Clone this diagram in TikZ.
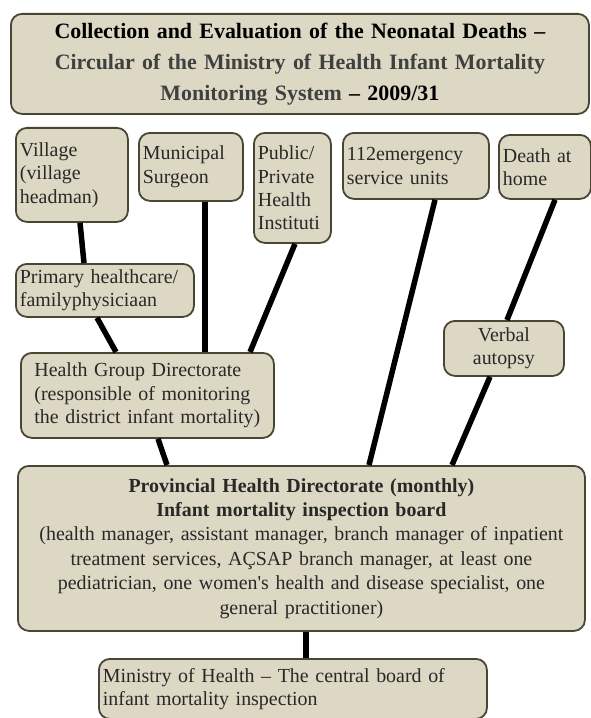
\documentclass[tikz,border=0pt]{standalone}
\usepackage{fontspec}
\setmainfont{Liberation Serif}
\definecolor{boxfill}{RGB}{221,216,196}
\definecolor{boxline}{RGB}{74,70,52}
\definecolor{txt}{RGB}{40,40,40}
\definecolor{ttlgrey}{RGB}{64,64,64}
\begin{document}
\begin{tikzpicture}[x=1bp,y=-1bp,
  box/.style={draw=boxline, fill=boxfill, line width=1.8bp, rounded corners=11bp,
    anchor=north west, inner xsep=4bp, inner ysep=3bp, text=txt,
    font=\fontsize{20}{23.5}\selectfont},
  link/.style={line width=5.5bp, draw=black}]
\useasboundingbox (0,0) rectangle (591,718);
\fill[white] (0,0) rectangle (591,718);
\begin{scope}
\clip (0,0) rectangle (591,718);
\node[box, text width=570bp, minimum height=100bp, align=center,
  font=\bfseries\fontsize{22}{31}\selectfont, text=ttlgrey] (title) at (10,13)
  {\textcolor{black}{Collection and Evaluation of the Neonatal Deaths –}\\
   Circular of the Ministry of Health Infant Mortality\\
   Monitoring System \textcolor{black}{– 2009/31}};
\node[box, text width=104bp, minimum height=94bp, align=left] (village) at (15,127)
  {Village\\(village\\headman)};
\node[box, text width=96bp, minimum height=68bp, align=left] (municipal) at (138,132)
  {Municipal\\Surgeon};
\node[box, text width=69bp, minimum height=110bp, align=left] (public) at (253,132)
  {Public/\\Private\\Health\\Instituti};
\node[box, text width=138bp, minimum height=66bp, align=left] (e112) at (342,132)
  {112emergency\\service units};
\node[box, text width=84bp, minimum height=64bp, align=left] (death) at (498,134)
  {Death at\\home};
\node[box, text width=170bp, minimum height=53bp, align=left] (primary) at (15,263)
  {Primary healthcare/\\familyphysiciaan};
\node[box, text width=112bp, minimum height=55bp, align=center] (verbal) at (443,320)
  {Verbal\\autopsy};
\node[box, text width=226bp, inner xsep=13.5bp, minimum height=85bp, align=left] (hgd) at (20,352)
  {Health Group Directorate\\(responsible of monitoring\\the district infant mortality)};
\node[box, text width=559bp, minimum height=165bp, align=center,
  font=\fontsize{20}{24.5}\selectfont] (prov) at (17,465)
  {\textbf{Provincial Health Directorate (monthly)}\\
   \textbf{Infant mortality inspection board}\\
   (health manager, assistant manager, branch manager of inpatient\\
   treatment services, AÇSAP branch manager, at least one\\
   pediatrician, one women\textquotesingle s health and disease specialist, one\\
   general practitioner)};
\node[box, text width=380bp, minimum height=60bp, align=left] (ministry) at (98,658)
  {Ministry of Health – The central board of\\infant mortality inspection};
\draw[link] ([xshift=65bp]village.south west) -- ([xshift=69bp]primary.north west);
\draw[link] ([xshift=82bp]primary.south west) -- ([xshift=96bp]hgd.north west);
\draw[link] ([xshift=67bp]municipal.south west) coordinate (m1) -- (m1 |- hgd.north);
\draw[link] ([xshift=42bp]public.south west) -- ([xshift=230bp]hgd.north west);
\draw[link] ([xshift=93bp]e112.south west) -- ([xshift=352bp]prov.north west);
\draw[link] ([xshift=57bp]death.south west) -- ([xshift=64bp]verbal.north west);
\draw[link] ([xshift=47bp]verbal.south west) -- ([xshift=435bp]prov.north west);
\draw[link] ([xshift=138bp]hgd.south west) -- ([xshift=150bp]prov.north west);
\draw[link] ([xshift=289bp]prov.south west) coordinate (p1) -- (p1 |- ministry.north);
\end{scope}
\end{tikzpicture}
\end{document}
